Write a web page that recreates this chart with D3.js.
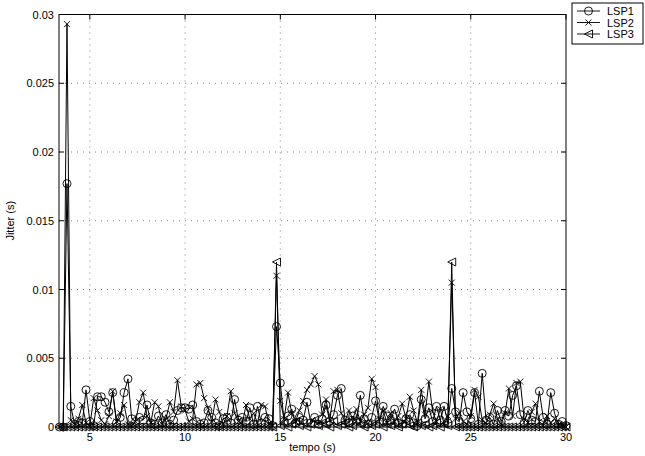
<!DOCTYPE html>
<html>
<head>
<meta charset="utf-8">
<script src="https://cdn.jsdelivr.net/npm/d3@7"></script>
<style>
  body { margin: 0; background: #fff; }
  text { font-family: "Liberation Sans", Arial, sans-serif; }
</style>
</head>
<body>
<div id="chart"></div>
<script>
// sample times (s): 3.4 .. 30.0, one sample every 0.2 s
const times = d3.range(134).map(i => +(3.4 + 0.2 * i).toFixed(1));

// jitter values (s)
const lsp1 = [
  0.0000, 0.0000, 0.0177, 0.0015, 0.0002, 0.0004, 0.0003, 0.0027, 0.0004, 0.0001,
  0.0022, 0.0022, 0.0018, 0.0011, 0.0025, 0.0003, 0.0007, 0.0025, 0.0035, 0.0006,
  0.0004, 0.0007, 0.0005, 0.0016, 0.0003, 0.0002, 0.0008, 0.0003, 0.0009, 0.0002,
  0.0005, 0.0012, 0.0014, 0.0014, 0.0013, 0.0016, 0.0004, 0.0002, 0.0003, 0.0012,
  0.0007, 0.0003, 0.0001, 0.0006, 0.0007, 0.0003, 0.0020, 0.0005, 0.0007, 0.0004,
  0.0014, 0.0002, 0.0015, 0.0003, 0.0007, 0.0006, 0.0001, 0.0073, 0.0032, 0.0004,
  0.0008, 0.0013, 0.0003, 0.0007, 0.0005, 0.0018, 0.0003, 0.0007, 0.0002, 0.0006,
  0.0016, 0.0004, 0.0009, 0.0023, 0.0028, 0.0005, 0.0003, 0.0008, 0.0004, 0.0023,
  0.0006, 0.0002, 0.0007, 0.0019, 0.0004, 0.0015, 0.0008, 0.0005, 0.0013, 0.0003,
  0.0002, 0.0006, 0.0009, 0.0003, 0.0001, 0.0020, 0.0006, 0.0014, 0.0004, 0.0015,
  0.0005, 0.0015, 0.0003, 0.0028, 0.0011, 0.0004, 0.0025, 0.0011, 0.0006, 0.0025,
  0.0002, 0.0039, 0.0005, 0.0007, 0.0002, 0.0012, 0.0004, 0.0012, 0.0008, 0.0023,
  0.0030, 0.0009, 0.0003, 0.0012, 0.0005, 0.0004, 0.0026, 0.0007, 0.0002, 0.0025,
  0.0010, 0.0002, 0.0004, 0.0001
];
const lsp2 = [
  0.0000, 0.0000, 0.0293, 0.0005, 0.0002, 0.0006, 0.0016, 0.0003, 0.0001, 0.0021,
  0.0012, 0.0005, 0.0002, 0.0008, 0.0026, 0.0004, 0.0010, 0.0016, 0.0002, 0.0001,
  0.0004, 0.0018, 0.0025, 0.0008, 0.0003, 0.0018, 0.0015, 0.0002, 0.0006, 0.0018,
  0.0011, 0.0034, 0.0015, 0.0012, 0.0004, 0.0006, 0.0031, 0.0032, 0.0021, 0.0014,
  0.0004, 0.0020, 0.0011, 0.0002, 0.0008, 0.0026, 0.0010, 0.0004, 0.0002, 0.0016,
  0.0006, 0.0010, 0.0003, 0.0016, 0.0015, 0.0002, 0.0001, 0.0110, 0.0019, 0.0006,
  0.0025, 0.0010, 0.0004, 0.0012, 0.0019, 0.0027, 0.0031, 0.0037, 0.0031, 0.0009,
  0.0020, 0.0005, 0.0026, 0.0027, 0.0010, 0.0004, 0.0012, 0.0006, 0.0013, 0.0004,
  0.0009, 0.0014, 0.0035, 0.0029, 0.0006, 0.0012, 0.0003, 0.0010, 0.0004, 0.0008,
  0.0017, 0.0006, 0.0022, 0.0012, 0.0003, 0.0027, 0.0009, 0.0033, 0.0011, 0.0004,
  0.0013, 0.0002, 0.0008, 0.0105, 0.0006, 0.0010, 0.0004, 0.0002, 0.0008, 0.0027,
  0.0022, 0.0005, 0.0003, 0.0009, 0.0017, 0.0006, 0.0002, 0.0010, 0.0028, 0.0008,
  0.0032, 0.0033, 0.0006, 0.0003, 0.0011, 0.0017, 0.0004, 0.0001, 0.0008, 0.0003,
  0.0006, 0.0001, 0.0002, 0.0000
];
const lsp3 = [
  0, 0, 0, 0, 0, 0, 0, 0, 0, 0,
  0, 0, 0, 0, 0, 0, 0, 0, 0, 0,
  0, 0, 0, 0, 0, 0, 0, 0, 0, 0,
  0, 0, 0, 0, 0, 0, 0, 0, 0, 0,
  0, 0, 0, 0, 0, 0, 0, 0, 0, 0,
  0, 0, 0, 0, 0, 0, 0, 0.0120, 0.0001, 0.0003,
  0.0000, 0.0002, 0.0004, 0.0001, 0.0003, 0.0000, 0.0002, 0.0005, 0.0001, 0.0003,
  0.0002, 0.0000, 0.0004, 0.0001, 0.0002, 0.0003, 0.0000, 0.0001, 0.0004, 0.0002,
  0.0000, 0.0003, 0.0001, 0.0002, 0.0004, 0.0000, 0.0002, 0.0001, 0.0003, 0.0000,
  0.0002, 0.0004, 0.0001, 0.0000, 0.0003, 0.0001, 0.0002, 0.0000, 0.0001, 0.0003,
  0.0000, 0.0002, 0.0001, 0.0120, 0, 0, 0, 0, 0, 0,
  0, 0, 0, 0, 0, 0, 0, 0, 0, 0,
  0, 0, 0, 0, 0, 0, 0, 0, 0, 0,
  0, 0, 0, 0
];

const seriesNames = ["LSP1", "LSP2", "LSP3"];
const xTicks = [5, 10, 15, 20, 25, 30];
const yTicks = [0, 0.005, 0.01, 0.015, 0.02, 0.025, 0.03];

const width = 645, height = 456;
const plot = { left: 59, top: 14.5, right: 566, bottom: 427 };

const svg = d3.select("#chart").append("svg")
    .attr("width", width)
    .attr("height", height);

const x = d3.scaleLinear().domain([3.38, 30]).range([plot.left, plot.right]);
const y = d3.scaleLinear().domain([0, 0.03]).range([plot.bottom, plot.top]);

// dotted grid (matlab style)
const grid = svg.append("g")
    .attr("stroke", "#666")
    .attr("stroke-width", 0.8)
    .attr("stroke-dasharray", "1,5");
xTicks.filter(t => t < 30).forEach(t => {
    grid.append("line")
        .attr("x1", x(t)).attr("x2", x(t))
        .attr("y1", plot.top).attr("y2", plot.bottom);
});
yTicks.filter(t => t > 0 && t < 0.03).forEach(t => {
    grid.append("line")
        .attr("x1", plot.left).attr("x2", plot.right)
        .attr("y1", y(t)).attr("y2", y(t));
});

// markers
function drawMarker(g, kind, cx, cy) {
    if (kind === "circle") {
        g.append("circle").attr("cx", cx).attr("cy", cy).attr("r", 4);
    } else if (kind === "cross") {
        const s = 3;
        g.append("path").attr("d", `M${cx - s},${cy - s}L${cx + s},${cy + s}M${cx - s},${cy + s}L${cx + s},${cy - s}`);
    } else {
        const s = 4;
        g.append("path").attr("d", `M${cx - s},${cy}L${cx + s},${cy - s}L${cx + s},${cy + s}Z`);
    }
}

const series = [
    { name: seriesNames[0], values: lsp1, marker: "circle" },
    { name: seriesNames[1], values: lsp2, marker: "cross" },
    { name: seriesNames[2], values: lsp3, marker: "triangle" }
];

const line = d3.line()
    .x((d, i) => x(times[i]))
    .y(d => y(d));

const plotG = svg.append("g");
series.forEach(s => {
    plotG.append("path")
        .datum(s.values)
        .attr("fill", "none")
        .attr("stroke", "#000")
        .attr("stroke-width", 1)
        .attr("d", line);
    const mg = plotG.append("g")
        .attr("fill", "none")
        .attr("stroke", "#000")
        .attr("stroke-width", 0.9);
    s.values.forEach((v, i) => drawMarker(mg, s.marker, x(times[i]), y(v)));
});

// axes box with inward ticks on all sides
const axisG = svg.append("g").attr("stroke", "#000").attr("stroke-width", 1);
axisG.append("rect")
    .attr("x", plot.left).attr("y", plot.top)
    .attr("width", plot.right - plot.left)
    .attr("height", plot.bottom - plot.top)
    .attr("fill", "none");
xTicks.forEach(t => {
    axisG.append("line").attr("x1", x(t)).attr("x2", x(t)).attr("y1", plot.bottom).attr("y2", plot.bottom - 5);
    axisG.append("line").attr("x1", x(t)).attr("x2", x(t)).attr("y1", plot.top).attr("y2", plot.top + 5);
});
yTicks.forEach(t => {
    axisG.append("line").attr("x1", plot.left).attr("x2", plot.left + 5).attr("y1", y(t)).attr("y2", y(t));
    axisG.append("line").attr("x1", plot.right).attr("x2", plot.right - 5).attr("y1", y(t)).attr("y2", y(t));
});

// tick labels
svg.append("g").selectAll("text")
    .data(xTicks)
    .join("text")
    .attr("x", d => x(d))
    .attr("y", plot.bottom + 14)
    .attr("text-anchor", "middle")
    .style("font-size", "11px")
    .text(d => d);

svg.append("g").selectAll("text")
    .data(yTicks)
    .join("text")
    .attr("x", plot.left - 5)
    .attr("y", d => y(d) + 4)
    .attr("text-anchor", "end")
    .style("font-size", "11px")
    .text(d => d === 0 ? "0" : String(d));

// axis titles
svg.append("text")
    .attr("x", (plot.left + plot.right) / 2)
    .attr("y", 451)
    .attr("text-anchor", "middle")
    .style("font-size", "11px")
    .text("tempo (s)");

svg.append("text")
    .attr("transform", `translate(14, ${(plot.top + plot.bottom) / 2}) rotate(-90)`)
    .attr("text-anchor", "middle")
    .style("font-size", "11px")
    .text("Jitter (s)");

// legend
const legend = svg.append("g").attr("transform", "translate(572, 3)");
legend.append("rect")
    .attr("width", 71).attr("height", 41)
    .attr("fill", "#fff").attr("stroke", "#000");
series.forEach((s, i) => {
    const ly = 8 + i * 11.5;
    const lg = legend.append("g").attr("fill", "none").attr("stroke", "#000").attr("stroke-width", 0.9);
    lg.append("line").attr("x1", 5).attr("x2", 28).attr("y1", ly).attr("y2", ly);
    drawMarker(lg, s.marker, 16.5, ly);
    legend.append("text")
        .attr("x", 35)
        .attr("y", ly + 4)
        .style("font-size", "11px")
        .text(s.name);
});
</script>
</body>
</html>
